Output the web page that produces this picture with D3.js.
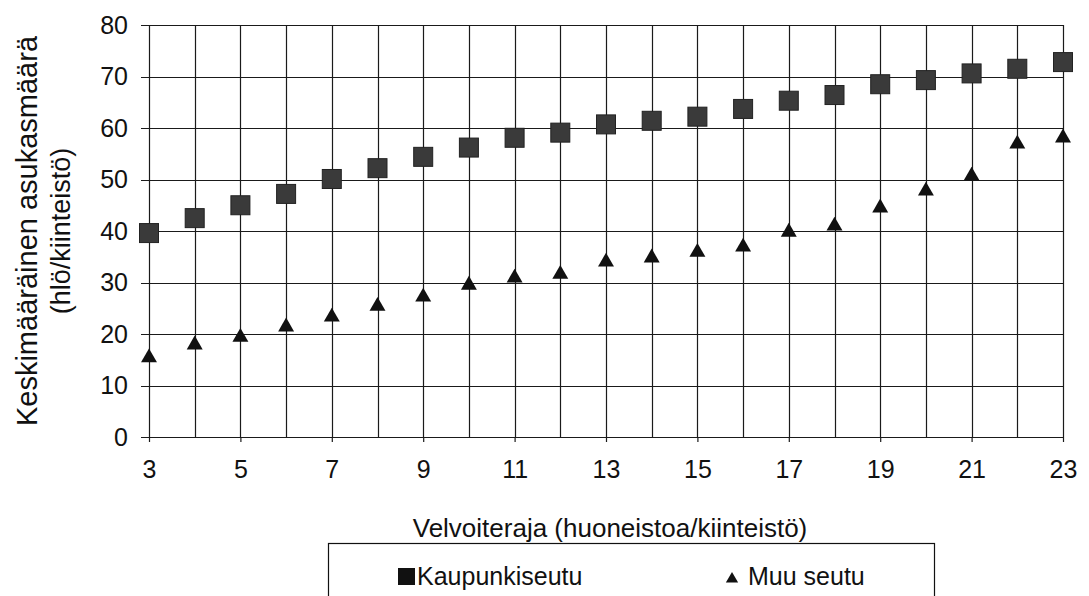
<!DOCTYPE html>
<html>
<head>
<meta charset="utf-8">
<script src="https://cdn.jsdelivr.net/npm/d3@7/dist/d3.min.js"></script>
<style>
  html, body { margin: 0; padding: 0; background: #fff; }
  svg { display: block; font-family: "Liberation Sans", Arial, sans-serif; }
</style>
</head>
<body>
<svg id="chart" width="1089" height="596"></svg>
<script>
// Velvoiteraja (apartments per property) on the x axis
const thresholds = [3,4,5,6,7,8,9,10,11,12,13,14,15,16,17,18,19,20,21,22,23];
// Average residents per property, urban region
const kaupunkiseutu = [39.6,42.5,45.0,47.2,50.1,52.2,54.4,56.2,58.1,59.1,60.7,61.4,62.2,63.7,65.3,66.4,68.5,69.3,70.6,71.5,72.8];
// Average residents per property, other regions
const muuSeutu = [15.4,17.9,19.4,21.4,23.3,25.4,27.2,29.5,30.9,31.6,34.0,34.8,35.9,36.9,39.8,41.0,44.5,47.8,50.7,56.9,58.1];
const xTickLabels = [3,5,7,9,11,13,15,17,19,21,23];
const yTickLabels = [0,10,20,30,40,50,60,70,80];

const FONT = "'Liberation Sans', Arial, sans-serif";
const svg = d3.select("#chart");
const plotLeft = 149, plotRight = 1063, plotTop = 25, plotBottom = 437;

const x = d3.scaleLinear().domain([3, 23]).range([plotLeft, plotRight]);
const y = d3.scaleLinear().domain([0, 80]).range([plotBottom, plotTop]);

// grid
const grid = svg.append("g").attr("stroke", "#1a1a1a").attr("stroke-width", 1.2);
grid.selectAll("line.h").data(yTickLabels).join("line")
  .attr("x1", plotLeft - 8).attr("x2", plotRight)
  .attr("y1", d => Math.round(y(d)) + 0.5).attr("y2", d => Math.round(y(d)) + 0.5);
grid.selectAll("line.v").data(thresholds).join("line")
  .attr("x1", d => Math.round(x(d)) + 0.5).attr("x2", d => Math.round(x(d)) + 0.5)
  .attr("y1", plotTop).attr("y2", plotBottom);

// x axis ticks and labels
const xAxis = d3.axisBottom(x).tickValues(xTickLabels).tickSize(5).tickPadding(18).tickFormat(d3.format("d"));
const gx = svg.append("g").attr("transform", `translate(0,${plotBottom})`).call(xAxis);
gx.select(".domain").remove();
gx.selectAll(".tick line").attr("stroke", "#1a1a1a").attr("stroke-width", 1.2);
gx.selectAll(".tick text").attr("font-size", 25).attr("fill", "#111").attr("font-family", FONT);

// y axis labels
const yAxis = d3.axisLeft(y).tickValues(yTickLabels).tickSize(0).tickPadding(21).tickFormat(d3.format("d"));
const gy = svg.append("g").attr("transform", `translate(${plotLeft},0)`).call(yAxis);
gy.select(".domain").remove();
gy.selectAll(".tick text").attr("font-size", 25).attr("fill", "#111").attr("font-family", FONT);

// markers: squares
const sq = 19;
svg.append("g").selectAll("rect").data(thresholds).join("rect")
  .attr("x", (d) => x(d) - sq / 2)
  .attr("y", (d, i) => y(kaupunkiseutu[i]) - sq / 2)
  .attr("width", sq).attr("height", sq)
  .attr("fill", "#3a3a3a").attr("stroke", "#222").attr("stroke-width", 1);

// markers: triangles
const tri = d3.symbol().type(d3.symbolTriangle).size(110);
svg.append("g").selectAll("path").data(thresholds).join("path")
  .attr("transform", (d, i) => `translate(${x(d)},${y(muuSeutu[i])})`)
  .attr("d", tri)
  .attr("fill", "#111");

// axis titles
const yMid = (plotTop + plotBottom) / 2;
svg.append("text")
  .attr("transform", `translate(37,${yMid}) rotate(-90)`)
  .attr("text-anchor", "middle").attr("font-size", 29).attr("fill", "#111")
  .text("Keskimääräinen asukasmäärä");
svg.append("text")
  .attr("transform", `translate(70,${yMid}) rotate(-90)`)
  .attr("text-anchor", "middle").attr("font-size", 27).attr("fill", "#111")
  .text("(hlö/kiinteistö)");
svg.append("text")
  .attr("x", 610).attr("y", 537)
  .attr("text-anchor", "middle").attr("font-size", 26).attr("fill", "#111")
  .text("Velvoiteraja (huoneistoa/kiinteistö)");

// legend
const lg = svg.append("g");
lg.append("rect").attr("x", 328.5).attr("y", 543.5).attr("width", 606).attr("height", 70)
  .attr("fill", "none").attr("stroke", "#111").attr("stroke-width", 1.2);
lg.append("rect").attr("x", 398).attr("y", 568).attr("width", 17).attr("height", 17).attr("fill", "#111");
lg.append("text").attr("x", 417).attr("y", 585).attr("font-size", 25).attr("fill", "#111").text("Kaupunkiseutu");
lg.append("path").attr("transform", "translate(732,579)")
  .attr("d", d3.symbol().type(d3.symbolTriangle).size(65)).attr("fill", "#111");
lg.append("text").attr("x", 748).attr("y", 585).attr("font-size", 25).attr("fill", "#111").text("Muu seutu");
</script>
</body>
</html>
